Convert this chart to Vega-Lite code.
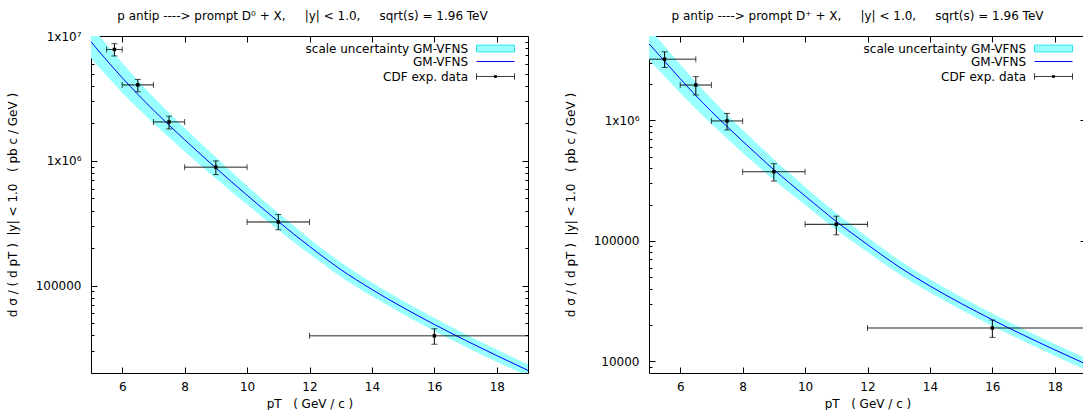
{
  "$schema": "https://vega.github.io/schema/vega-lite/v6.json",
  "background": "white",
  "padding": {"left": 5, "top": 9, "right": 0, "bottom": 0},
  "spacing": 34,
  "config": {
    "font": "DejaVu Sans",
    "view": {"stroke": "#000000", "strokeWidth": 1},
    "axis": {"grid": false, "domain": false, "labelFont": "DejaVu Sans", "labelFontSize": 12, "labelColor": "#000000", "titleFont": "DejaVu Sans", "titleFontSize": 12, "titleFontWeight": "normal", "titleColor": "#000000", "tickColor": "#000000", "labelOverlap": false, "labelFlush": false},
    "title": {"font": "DejaVu Sans", "fontSize": 12, "fontWeight": "normal", "color": "#000000"},
    "legend": {"labelFont": "DejaVu Sans", "labelFontSize": 12, "labelColor": "#000000", "labelLimit": 0, "padding": 0, "title": null, "orient": "none", "legendX": 385, "symbolSize": 1444, "symbolStrokeWidth": 1, "symbolOpacity": 1, "labelAlign": "right", "labelOffset": -47}
  },
  "datasets": {
    "d0curve": [
      {"pt": 5.0, "y": 8990000, "lo": 6670000, "hi": 12130000},
      {"pt": 5.5, "y": 6400000, "lo": 4800000, "hi": 8530000},
      {"pt": 6.0, "y": 4634000, "lo": 3516000, "hi": 6109000},
      {"pt": 6.5, "y": 3412000, "lo": 2636000, "hi": 4416000},
      {"pt": 7.0, "y": 2553000, "lo": 2004000, "hi": 3251000},
      {"pt": 7.5, "y": 1932000, "lo": 1535000, "hi": 2432000},
      {"pt": 8.0, "y": 1476000, "lo": 1186000, "hi": 1837000},
      {"pt": 8.5, "y": 1135000, "lo": 922600, "hi": 1396000},
      {"pt": 9.0, "y": 877000, "lo": 721100, "hi": 1067000},
      {"pt": 9.5, "y": 680800, "lo": 566200, "hi": 818500},
      {"pt": 10.0, "y": 530900, "lo": 446700, "hi": 631000},
      {"pt": 10.5, "y": 415000, "lo": 352400, "hi": 488700},
      {"pt": 11.0, "y": 327300, "lo": 279900, "hi": 382800},
      {"pt": 11.5, "y": 258800, "lo": 222800, "hi": 300600},
      {"pt": 12.0, "y": 206500, "lo": 179100, "hi": 238200},
      {"pt": 13.0, "y": 134900, "lo": 118000, "hi": 154200},
      {"pt": 14.0, "y": 93330, "lo": 82220, "hi": 105900},
      {"pt": 15.0, "y": 66830, "lo": 59160, "hi": 75510},
      {"pt": 16.0, "y": 48980, "lo": 43450, "hi": 55210},
      {"pt": 17.0, "y": 36480, "lo": 32510, "hi": 40930},
      {"pt": 18.0, "y": 27540, "lo": 24600, "hi": 30830},
      {"pt": 19.0, "y": 20990, "lo": 18790, "hi": 23440}
    ],
    "d0data": [
      {"pt": 5.75, "ptlo": 5.5, "pthi": 6, "y": 7800000, "ylo": 6920000, "yhi": 8680000},
      {"pt": 6.5, "ptlo": 6, "pthi": 7, "y": 4060000, "ylo": 3570000, "yhi": 4490000},
      {"pt": 7.5, "ptlo": 7, "pthi": 8, "y": 2050000, "ylo": 1800000, "yhi": 2280000},
      {"pt": 9, "ptlo": 8, "pthi": 10, "y": 890000, "ylo": 776000, "yhi": 1000000},
      {"pt": 11, "ptlo": 10, "pthi": 12, "y": 324000, "ylo": 281000, "yhi": 372000},
      {"pt": 16, "ptlo": 12, "pthi": 20, "y": 39700, "ylo": 34000, "yhi": 45200}
    ],
    "dpcurve": [
      {"pt": 5.0, "y": 4315000, "lo": 3199000, "hi": 5821000},
      {"pt": 5.5, "y": 3090000, "lo": 2317000, "hi": 4121000},
      {"pt": 6.0, "y": 2213000, "lo": 1679000, "hi": 2917000},
      {"pt": 6.5, "y": 1603000, "lo": 1239000, "hi": 2075000},
      {"pt": 7.0, "y": 1183000, "lo": 929000, "hi": 1507000},
      {"pt": 7.5, "y": 887200, "lo": 704700, "hi": 1117000},
      {"pt": 8.0, "y": 669900, "lo": 538300, "hi": 833700},
      {"pt": 8.5, "y": 509300, "lo": 414000, "hi": 626600},
      {"pt": 9.0, "y": 389000, "lo": 319900, "hi": 473200},
      {"pt": 9.5, "y": 302000, "lo": 251200, "hi": 363100},
      {"pt": 10.0, "y": 235500, "lo": 198200, "hi": 279900},
      {"pt": 10.5, "y": 184100, "lo": 156300, "hi": 216800},
      {"pt": 11.0, "y": 144500, "lo": 123600, "hi": 169000},
      {"pt": 11.5, "y": 115600, "lo": 99540, "hi": 134300},
      {"pt": 12.0, "y": 92900, "lo": 80540, "hi": 107200},
      {"pt": 13.0, "y": 60950, "lo": 53330, "hi": 69660},
      {"pt": 14.0, "y": 42170, "lo": 37150, "hi": 47860},
      {"pt": 15.0, "y": 30200, "lo": 26730, "hi": 34120},
      {"pt": 16.0, "y": 22130, "lo": 19630, "hi": 24950},
      {"pt": 17.0, "y": 16480, "lo": 14690, "hi": 18490},
      {"pt": 18.0, "y": 12450, "lo": 11120, "hi": 13930},
      {"pt": 19.0, "y": 9484, "lo": 8492, "hi": 10590}
    ],
    "dpdata": [
      {"pt": 5.5, "ptlo": 4.5, "pthi": 6.5, "y": 3210000, "ylo": 2740000, "yhi": 3700000},
      {"pt": 6.5, "ptlo": 6, "pthi": 7, "y": 1960000, "ylo": 1620000, "yhi": 2300000},
      {"pt": 7.5, "ptlo": 7, "pthi": 8, "y": 987000, "ylo": 830000, "yhi": 1140000},
      {"pt": 9, "ptlo": 8, "pthi": 10, "y": 374000, "ylo": 313000, "yhi": 436000},
      {"pt": 11, "ptlo": 10, "pthi": 12, "y": 137000, "ylo": 112000, "yhi": 160000},
      {"pt": 16, "ptlo": 12, "pthi": 20, "y": 18900, "ylo": 15800, "yhi": 22000}
    ]
  },
  "resolve": {
    "scale": {"fill": "independent", "stroke": "independent", "strokeDash": "independent"},
    "legend": {"fill": "independent", "stroke": "independent", "strokeDash": "independent"}
  },
  "hconcat": [
    {
      "width": 437,
      "height": 337,
      "title": {"text": "p antip ----> prompt D⁰ + X,\u00a0\u00a0\u00a0\u00a0\u00a0|y| < 1.0,\u00a0\u00a0\u00a0\u00a0\u00a0sqrt(s) = 1.96 TeV", "offset": 6, "dx": -7},
      "resolve": {"axis": {"x": "independent", "y": "independent"}},
      "layer": [
        {
          "data": {"name": "d0curve"},
          "mark": {"type": "area", "clip": true, "interpolate": "monotone", "opacity": 1},
          "encoding": {
            "x": {"field": "pt", "type": "quantitative", "scale": {"domain": [5, 19], "nice": false, "zero": false},
              "axis": {"orient": "bottom", "values": [6, 8, 10, 12, 14, 16, 18], "tickSize": -6, "labelPadding": 14, "title": "pT\u00a0\u00a0\u00a0( GeV / c )", "titlePadding": 6}},
            "y": {"field": "lo", "type": "quantitative", "scale": {"type": "log", "domain": [20000, 10000000], "nice": false},
              "axis": {"orient": "left", "values": [20000, 30000, 40000, 50000, 60000, 70000, 80000, 90000, 100000, 200000, 300000, 400000, 500000, 600000, 700000, 800000, 900000, 1000000, 2000000, 3000000, 4000000, 5000000, 6000000, 7000000, 8000000, 9000000, 10000000],
                "labelExpr": "datum.value == 10000000 ? '1x10⁷' : datum.value == 1000000 ? '1x10⁶' : datum.value == 100000 ? '100000' : datum.value == 10000 ? '10000' : ''",
                "tickSize": {"condition": {"test": "datum.value == 10000 || datum.value == 100000 || datum.value == 1000000 || datum.value == 10000000", "value": -6}, "value": -3},
                "labelPadding": 16,
                "title": "d σ / ( d pT )\u00a0\u00a0|y| < 1.0\u00a0\u00a0\u00a0( pb c / GeV )", "titlePadding": 16}},
            "y2": {"field": "hi"},
            "fill": {"datum": "scale uncertainty GM-VFNS", "type": "nominal", "scale": {"range": ["#99ffff"]},
              "legend": {"legendY": -7, "symbolType": "M-1,-0.18H1V0.18H-1Z", "symbolStrokeColor": "#2ee8e8", "symbolFillColor": "#99ffff"}}
          }
        },
        {
          "data": {"name": "d0curve"},
          "mark": {"type": "line", "clip": true, "interpolate": "monotone", "strokeWidth": 1},
          "encoding": {
            "x": {"field": "pt", "type": "quantitative", "axis": {"orient": "top", "values": [6, 8, 10, 12, 14, 16, 18], "tickSize": -6, "labels": false, "title": null}},
            "y": {"field": "y", "type": "quantitative",
              "axis": {"orient": "right", "labels": false, "title": null, "values": [20000, 30000, 40000, 50000, 60000, 70000, 80000, 90000, 100000, 200000, 300000, 400000, 500000, 600000, 700000, 800000, 900000, 1000000, 2000000, 3000000, 4000000, 5000000, 6000000, 7000000, 8000000, 9000000],
                "tickSize": {"condition": {"test": "datum.value == 10000 || datum.value == 100000 || datum.value == 1000000 || datum.value == 10000000", "value": -6}, "value": -3}}},
            "stroke": {"datum": "GM-VFNS", "type": "nominal", "scale": {"range": ["#0000ff"]},
              "legend": {"legendY": 6, "symbolType": "M-1,0H1", "symbolStrokeColor": "#0000ff"}}
          }
        },
        {
          "data": {"name": "d0data"},
          "mark": {"type": "rule", "clip": true, "color": "#000000", "strokeWidth": 1},
          "encoding": {
            "x": {"field": "ptlo", "type": "quantitative", "axis": null},
            "x2": {"field": "pthi"},
            "y": {"field": "y", "type": "quantitative", "axis": null},
            "strokeDash": {"datum": "CDF exp. data", "type": "nominal", "scale": {"range": [[1, 0]]},
              "legend": {"legendY": 21, "symbolType": "M-1,0H1M-1,-0.16V0.16M1,-0.16V0.16M-0.05,-0.05H0.05V0.05H-0.05Z", "symbolStrokeColor": "#000000", "symbolFillColor": "#000000"}}
          }
        },
        {
          "data": {"name": "d0data"},
          "mark": {"type": "rule", "clip": true, "color": "#000000", "strokeWidth": 1},
          "encoding": {
            "x": {"field": "pt", "type": "quantitative", "axis": null},
            "y": {"field": "ylo", "type": "quantitative", "axis": null},
            "y2": {"field": "yhi"}
          }
        },
        {
          "data": {"name": "d0data"},
          "mark": {"type": "tick", "orient": "vertical", "clip": true, "color": "#000000", "size": 6, "thickness": 1},
          "encoding": {
            "x": {"field": "ptlo", "type": "quantitative", "axis": null},
            "y": {"field": "y", "type": "quantitative", "axis": null}
          }
        },
        {
          "data": {"name": "d0data"},
          "mark": {"type": "tick", "orient": "vertical", "clip": true, "color": "#000000", "size": 6, "thickness": 1},
          "encoding": {
            "x": {"field": "pthi", "type": "quantitative", "axis": null},
            "y": {"field": "y", "type": "quantitative", "axis": null}
          }
        },
        {
          "data": {"name": "d0data"},
          "mark": {"type": "tick", "orient": "horizontal", "clip": true, "color": "#000000", "size": 6, "thickness": 1},
          "encoding": {
            "x": {"field": "pt", "type": "quantitative", "axis": null},
            "y": {"field": "ylo", "type": "quantitative", "axis": null}
          }
        },
        {
          "data": {"name": "d0data"},
          "mark": {"type": "tick", "orient": "horizontal", "clip": true, "color": "#000000", "size": 6, "thickness": 1},
          "encoding": {
            "x": {"field": "pt", "type": "quantitative", "axis": null},
            "y": {"field": "yhi", "type": "quantitative", "axis": null}
          }
        },
        {
          "data": {"name": "d0data"},
          "mark": {"type": "point", "shape": "square", "filled": true, "clip": true, "color": "#000000", "size": 12, "opacity": 1},
          "encoding": {
            "x": {"field": "pt", "type": "quantitative", "axis": null},
            "y": {"field": "y", "type": "quantitative", "axis": null}
          }
        }
      ]
    },
    {
      "width": 437,
      "height": 337,
      "title": {"text": "p antip ----> prompt D⁺ + X,\u00a0\u00a0\u00a0\u00a0\u00a0|y| < 1.0,\u00a0\u00a0\u00a0\u00a0\u00a0sqrt(s) = 1.96 TeV", "offset": 6, "dx": -10},
      "resolve": {"axis": {"x": "independent", "y": "independent"}},
      "layer": [
        {
          "data": {"name": "dpcurve"},
          "mark": {"type": "area", "clip": true, "interpolate": "monotone", "opacity": 1},
          "encoding": {
            "x": {"field": "pt", "type": "quantitative", "scale": {"domain": [5, 19], "nice": false, "zero": false},
              "axis": {"orient": "bottom", "values": [6, 8, 10, 12, 14, 16, 18], "tickSize": -6, "labelPadding": 14, "title": "pT\u00a0\u00a0\u00a0( GeV / c )", "titlePadding": 6}},
            "y": {"field": "lo", "type": "quantitative", "scale": {"type": "log", "domain": [8000, 5000000], "nice": false},
              "axis": {"orient": "left", "values": [9000, 10000, 20000, 30000, 40000, 50000, 60000, 70000, 80000, 90000, 100000, 200000, 300000, 400000, 500000, 600000, 700000, 800000, 900000, 1000000, 2000000, 3000000, 4000000],
                "labelExpr": "datum.value == 10000000 ? '1x10⁷' : datum.value == 1000000 ? '1x10⁶' : datum.value == 100000 ? '100000' : datum.value == 10000 ? '10000' : ''",
                "tickSize": {"condition": {"test": "datum.value == 10000 || datum.value == 100000 || datum.value == 1000000 || datum.value == 10000000", "value": -6}, "value": -3},
                "labelPadding": 16,
                "title": "d σ / ( d pT )\u00a0\u00a0|y| < 1.0\u00a0\u00a0\u00a0( pb c / GeV )", "titlePadding": 16}},
            "y2": {"field": "hi"},
            "fill": {"datum": "scale uncertainty GM-VFNS", "type": "nominal", "scale": {"range": ["#99ffff"]},
              "legend": {"legendY": -7, "symbolType": "M-1,-0.18H1V0.18H-1Z", "symbolStrokeColor": "#2ee8e8", "symbolFillColor": "#99ffff"}}
          }
        },
        {
          "data": {"name": "dpcurve"},
          "mark": {"type": "line", "clip": true, "interpolate": "monotone", "strokeWidth": 1},
          "encoding": {
            "x": {"field": "pt", "type": "quantitative", "axis": {"orient": "top", "values": [6, 8, 10, 12, 14, 16, 18], "tickSize": -6, "labels": false, "title": null}},
            "y": {"field": "y", "type": "quantitative",
              "axis": {"orient": "right", "labels": false, "title": null, "values": [9000, 10000, 20000, 30000, 40000, 50000, 60000, 70000, 80000, 90000, 100000, 200000, 300000, 400000, 500000, 600000, 700000, 800000, 900000, 1000000, 2000000, 3000000, 4000000],
                "tickSize": {"condition": {"test": "datum.value == 10000 || datum.value == 100000 || datum.value == 1000000 || datum.value == 10000000", "value": -6}, "value": -3}}},
            "stroke": {"datum": "GM-VFNS", "type": "nominal", "scale": {"range": ["#0000ff"]},
              "legend": {"legendY": 6, "symbolType": "M-1,0H1", "symbolStrokeColor": "#0000ff"}}
          }
        },
        {
          "data": {"name": "dpdata"},
          "mark": {"type": "rule", "clip": true, "color": "#000000", "strokeWidth": 1},
          "encoding": {
            "x": {"field": "ptlo", "type": "quantitative", "axis": null},
            "x2": {"field": "pthi"},
            "y": {"field": "y", "type": "quantitative", "axis": null},
            "strokeDash": {"datum": "CDF exp. data", "type": "nominal", "scale": {"range": [[1, 0]]},
              "legend": {"legendY": 21, "symbolType": "M-1,0H1M-1,-0.16V0.16M1,-0.16V0.16M-0.05,-0.05H0.05V0.05H-0.05Z", "symbolStrokeColor": "#000000", "symbolFillColor": "#000000"}}
          }
        },
        {
          "data": {"name": "dpdata"},
          "mark": {"type": "rule", "clip": true, "color": "#000000", "strokeWidth": 1},
          "encoding": {
            "x": {"field": "pt", "type": "quantitative", "axis": null},
            "y": {"field": "ylo", "type": "quantitative", "axis": null},
            "y2": {"field": "yhi"}
          }
        },
        {
          "data": {"name": "dpdata"},
          "mark": {"type": "tick", "orient": "vertical", "clip": true, "color": "#000000", "size": 6, "thickness": 1},
          "encoding": {
            "x": {"field": "ptlo", "type": "quantitative", "axis": null},
            "y": {"field": "y", "type": "quantitative", "axis": null}
          }
        },
        {
          "data": {"name": "dpdata"},
          "mark": {"type": "tick", "orient": "vertical", "clip": true, "color": "#000000", "size": 6, "thickness": 1},
          "encoding": {
            "x": {"field": "pthi", "type": "quantitative", "axis": null},
            "y": {"field": "y", "type": "quantitative", "axis": null}
          }
        },
        {
          "data": {"name": "dpdata"},
          "mark": {"type": "tick", "orient": "horizontal", "clip": true, "color": "#000000", "size": 6, "thickness": 1},
          "encoding": {
            "x": {"field": "pt", "type": "quantitative", "axis": null},
            "y": {"field": "ylo", "type": "quantitative", "axis": null}
          }
        },
        {
          "data": {"name": "dpdata"},
          "mark": {"type": "tick", "orient": "horizontal", "clip": true, "color": "#000000", "size": 6, "thickness": 1},
          "encoding": {
            "x": {"field": "pt", "type": "quantitative", "axis": null},
            "y": {"field": "yhi", "type": "quantitative", "axis": null}
          }
        },
        {
          "data": {"name": "dpdata"},
          "mark": {"type": "point", "shape": "square", "filled": true, "clip": true, "color": "#000000", "size": 12, "opacity": 1},
          "encoding": {
            "x": {"field": "pt", "type": "quantitative", "axis": null},
            "y": {"field": "y", "type": "quantitative", "axis": null}
          }
        }
      ]
    }
  ]
}
